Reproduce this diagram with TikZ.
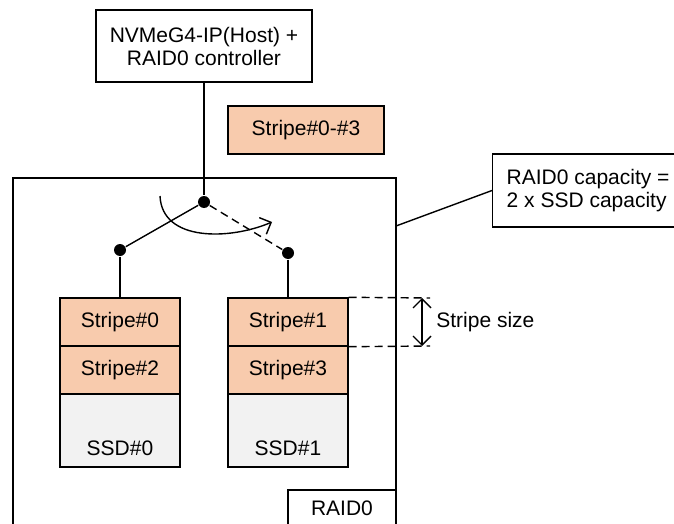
\documentclass[tikz,border=0pt]{standalone}
\usepackage{fontspec}
\setmainfont{Liberation Sans}
\usetikzlibrary{arrows.meta}
\definecolor{stripefill}{HTML}{F8CBAD}
\definecolor{ssdfill}{HTML}{F2F2F2}
\begin{document}
\begin{tikzpicture}[x=0.5pt,y=-0.5pt,line width=0.7pt,
        font=\fontsize{10.5}{11.5}\selectfont,
        box/.style={draw,rectangle,inner sep=0pt,align=center},
        stripe/.style={box,fill=stripefill,minimum width=60pt,minimum height=24pt},
        ssd/.style={box,fill=ssdfill,minimum width=60pt,minimum height=36.5pt},
        dot/.style={circle,fill,inner sep=0pt,minimum size=6pt},
        gap/.style={dash pattern=on 4pt off 2.5pt},
        barb/.tip={Straight Barb[length=4.5pt,width=9pt]}]
                \clip (0,0) rectangle (674,524);
                \draw (13,560) rectangle (396,178);
                \node[box,minimum width=108pt,minimum height=36pt] (host) at (204,46) {NVMeG4-IP(Host) +\\RAID0 controller};
                \node[box,fill=stripefill,minimum width=78pt,minimum height=24pt] (stripeall) at (306,130) {Stripe\#0-\#3};
                \node[dot] (hub) at (204,202) {};
                \node[dot] (portl) at (120,250) {};
                \node[dot] (portr) at (288,253) {};
                \node[stripe] (s0) at (120,322) {Stripe\#0};
                \node[stripe] (s2) at (120,370) {Stripe\#2};
                \node[ssd,label={[anchor=center,yshift=9.5pt]south:SSD\#0}] (ssd0) at (120,430.5) {};
                \node[stripe] (s1) at (288,322) {Stripe\#1};
                \node[stripe] (s3) at (288,370) {Stripe\#3};
                \node[ssd,label={[anchor=center,yshift=9.5pt]south:SSD\#1}] (ssd1) at (288,430.5) {};
                \draw (host) -- (hub);
                \draw (hub) -- (portl);
                \draw[gap] (hub) -- (portr);
                \draw (portl) -- (s0);
                \draw (portr) -- (s1);
                \coordinate (swingA) at (160,196);
                \coordinate (swingB) at (272,222);
                \draw[-barb] (swingA) .. controls (162,242) and (230,240) .. (swingB);
                \coordinate (sizetop) at (430,298);
                \coordinate (sizebot) at (430,346);
                \coordinate (sizeA) at (422,298);
                \coordinate (sizeB) at (422,346);
                \draw[gap] (s1.north east) -- (sizetop);
                \draw[gap] (s1.south east) -- (sizebot);
                \draw[barb-barb] (sizeA) -- (sizeB);
                \node[anchor=west] (sizetext) at (429,322) {Stripe size};
                \node[box,align=left,anchor=west,minimum height=36.5pt,inner xsep=7pt] (capacity) at (492,190.5) {RAID0 capacity =\\2 x SSD capacity};
                \coordinate (raidedge) at (396,226);
                \draw (raidedge) -- (capacity.west);
                \node[box,minimum width=54pt,minimum height=18pt] (raid) at (342,508) {RAID0};
                \end{tikzpicture}
\end{document}
